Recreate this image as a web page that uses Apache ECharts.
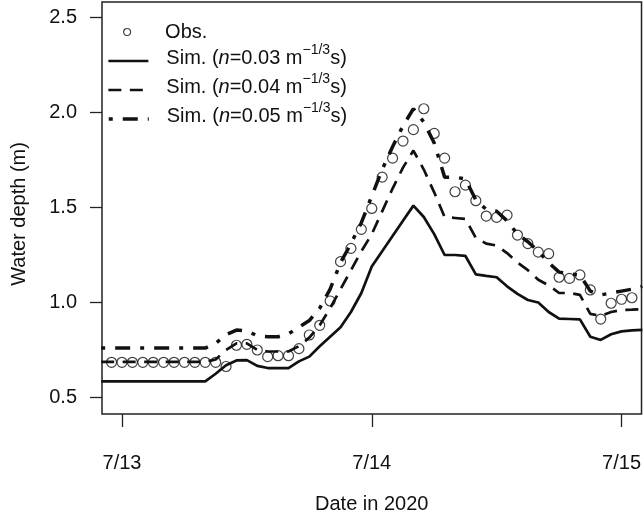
<!DOCTYPE html>
<html>
<head>
<meta charset="utf-8">
<script src="https://cdn.jsdelivr.net/npm/echarts@6/dist/echarts.min.js"></script>
<style>
html, body { margin: 0; padding: 0; background: #fff; }
#main { width: 644px; height: 520px; }
</style>
</head>
<body>
<div id="main"></div>
<script>
// hours counted from 7/13 00:00 (hourly records)
var hours = [-2, -1, 0, 1, 2, 3, 4, 5, 6, 7, 8, 9, 10, 11, 12, 13, 14, 15, 16, 17, 18, 19, 20,
    21, 22, 23, 24, 25, 26, 27, 28, 29, 30, 31, 32, 33, 34, 35, 36, 37, 38, 39, 40,
    41, 42, 43, 44, 45, 46, 47, 48, 49, 50];

var obs = [0.685, 0.685, 0.685, 0.685, 0.685, 0.685, 0.685, 0.685, 0.685, 0.685, 0.685, 0.685,
    0.663, 0.775, 0.78, 0.75, 0.715, 0.72, 0.72, 0.757, 0.829, 0.88, 1.008,
    1.215, 1.285, 1.385, 1.495, 1.66, 1.76, 1.85, 1.91, 2.02, 1.89, 1.76, 1.583, 1.618, 1.536,
    1.455, 1.448, 1.46, 1.355, 1.31, 1.265, 1.257, 1.133, 1.127, 1.145, 1.066, 0.913, 0.996,
    1.017, 1.025, 1.045];

var sim003 = [0.585, 0.585, 0.585, 0.585, 0.585, 0.585, 0.585, 0.585, 0.585, 0.585, 0.585,
    0.625, 0.67, 0.695, 0.697, 0.666, 0.655, 0.655, 0.655, 0.69, 0.715, 0.77, 0.82,
    0.87, 0.95, 1.05, 1.19, 1.27, 1.35, 1.43, 1.51, 1.45, 1.36, 1.25, 1.25, 1.245, 1.148,
    1.14, 1.133, 1.085, 1.045, 1.013, 1.0, 0.95, 0.915, 0.913, 0.911, 0.82, 0.803, 0.833,
    0.848, 0.853, 0.856];

var sim004 = [0.687, 0.687, 0.687, 0.687, 0.687, 0.687, 0.687, 0.687, 0.687, 0.687, 0.687,
    0.70, 0.75, 0.785, 0.785, 0.75, 0.742, 0.742, 0.742, 0.77, 0.815, 0.88, 0.97,
    1.07, 1.17, 1.27, 1.36, 1.48, 1.60, 1.71, 1.80, 1.70, 1.58, 1.45, 1.445, 1.44, 1.34,
    1.31, 1.30, 1.26, 1.21, 1.17, 1.12, 1.09, 1.05, 1.05, 1.04, 0.94, 0.93, 0.95,
    0.96, 0.962, 0.965];

var sim005 = [0.76, 0.76, 0.76, 0.76, 0.76, 0.76, 0.76, 0.76, 0.76, 0.76, 0.76,
    0.785, 0.83, 0.855, 0.85, 0.825, 0.82, 0.82, 0.835, 0.87, 0.905, 0.97, 1.07,
    1.21, 1.31, 1.42, 1.56, 1.70, 1.82, 1.93, 2.02, 1.95, 1.84, 1.66, 1.66, 1.65, 1.54,
    1.49, 1.48, 1.43, 1.36, 1.32, 1.27, 1.21, 1.16, 1.15, 1.145, 1.06, 1.04, 1.05,
    1.06, 1.07, 1.085];

var xTicks = [0, 24, 48];
var xTickLabels = ['7/13', '7/14', '7/15'];
var yTicks = [0.5, 1.0, 1.5, 2.0, 2.5];
var simNames = ['Sim. (n=0.03)', 'Sim. (n=0.04)', 'Sim. (n=0.05)'];
var simN = ['0.03', '0.04', '0.05'];

function pairs(vals) {
    var out = [];
    for (var i = 0; i < hours.length; i++) {
        out.push([hours[i], vals[i]]);
    }
    return out;
}

var font = 'Liberation Sans, Arial, sans-serif';
var ink = '#111';
var lineWidths = [2.7, 2.7, 3.5];
var lineTypes = ['solid', [13, 8.5], [4, 10, 15, 10]];

var richText = {
    a: { fontSize: 20, fontFamily: font, color: ink, lineHeight: 30 },
    i: { fontSize: 20, fontFamily: font, color: ink, fontStyle: 'italic', lineHeight: 30 },
    s: { fontSize: 14, fontFamily: font, color: ink, lineHeight: 14, verticalAlign: 'top' }
};

function simLegend(k, top) {
    return {
        data: [simNames[k]],
        orient: 'vertical',
        left: 107,
        top: top,
        padding: 0,
        itemWidth: 40,
        itemHeight: 10,
        // hide the dot ECharts puts in the middle of line legend icons
        itemStyle: { color: 'rgba(0,0,0,0)', borderColor: 'rgba(0,0,0,0)', borderWidth: 0 },
        lineStyle: { color: '#111', width: lineWidths[k], type: lineTypes[k], cap: 'butt' },
        formatter: function () {
            return '{a|Sim. (}{i|n}{a|=' + simN[k] + ' m}{s|\u22121/3}{a|s)}';
        },
        textStyle: { padding: [0, 0, 6, 13], rich: richText }
    };
}

function simSeries(k, vals) {
    return {
        name: simNames[k],
        type: 'line',
        data: pairs(vals),
        symbol: 'none',
        itemStyle: { color: '#111' },
        lineStyle: { color: '#111', width: lineWidths[k], type: lineTypes[k], cap: 'butt' }
    };
}

var dom = document.getElementById('main');
var myChart = echarts.init(dom);
var option = {
    backgroundColor: '#fff',
    animation: false,
    grid: {
        left: 102,
        right: 2,
        top: 2,
        bottom: 106,
        show: true,
        borderColor: '#222',
        borderWidth: 1.5,
        backgroundColor: 'transparent'
    },
    legend: [
        {
            data: ['Obs.'],
            left: 123,
            top: 20,
            padding: 0,
            itemWidth: 8,
            itemHeight: 7,
            itemStyle: { color: 'rgba(0,0,0,0)', borderColor: '#111', borderWidth: 1.2 },
            textStyle: { fontSize: 20, fontFamily: font, color: ink, lineHeight: 24, padding: [0, 0, 0, 29] }
        },
        simLegend(0, 43),
        simLegend(1, 72),
        simLegend(2, 101)
    ],
    xAxis: {
        type: 'value',
        min: -1.92,
        max: 49.92,
        name: 'Date in 2020',
        nameLocation: 'middle',
        nameGap: 80,
        nameTextStyle: { fontSize: 20, fontFamily: font, color: ink },
        axisLine: { show: false, onZero: false },
        splitLine: { show: false },
        axisTick: {
            show: true,
            length: 13,
            customValues: xTicks,
            lineStyle: { color: '#222', width: 1.3 }
        },
        axisLabel: {
            customValues: xTicks,
            margin: 39,
            fontSize: 20,
            fontFamily: font,
            color: ink,
            formatter: function (v) {
                var idx = xTicks.indexOf(v);
                return idx >= 0 ? xTickLabels[idx] : '';
            }
        }
    },
    yAxis: {
        type: 'value',
        min: 0.413,
        max: 2.582,
        name: 'Water depth (m)',
        nameLocation: 'middle',
        nameGap: 73,
        nameTextStyle: { fontSize: 20, fontFamily: font, color: ink, padding: [0, 12, 0, 0] },
        axisLine: { show: false, onZero: false },
        splitLine: { show: false },
        axisTick: {
            show: true,
            length: 12,
            customValues: yTicks,
            lineStyle: { color: '#222', width: 1.3 }
        },
        axisLabel: {
            customValues: yTicks,
            margin: 25,
            fontSize: 20,
            fontFamily: font,
            color: ink,
            formatter: function (v) {
                return v.toFixed(1);
            }
        }
    },
    series: [
        {
            name: 'Obs.',
            type: 'scatter',
            data: pairs(obs),
            symbol: 'circle',
            symbolSize: 10,
            itemStyle: { color: 'transparent', borderColor: '#111', borderWidth: 1.2 },
            z: 5
        },
        simSeries(0, sim003),
        simSeries(1, sim004),
        simSeries(2, sim005)
    ]
};
myChart.setOption(option, true);
</script>
</body>
</html>
